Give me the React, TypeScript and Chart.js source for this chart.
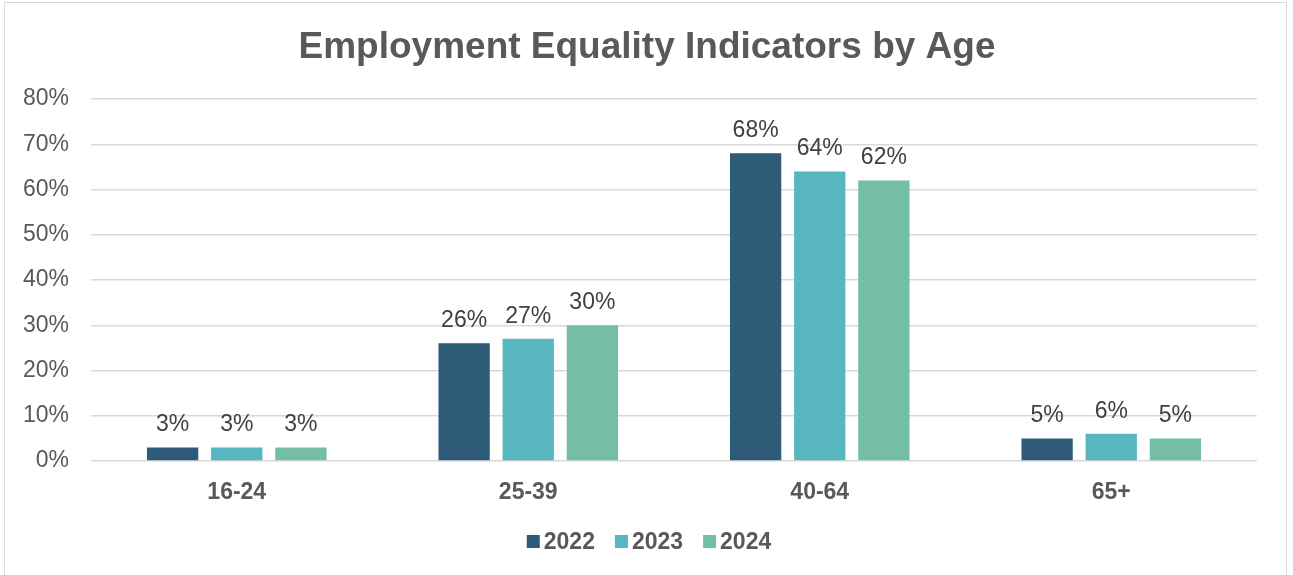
import React, { useEffect, useRef } from "react";
import { Chart, registerables } from "chart.js";

Chart.register(...registerables);

const chartTitle = "Employment Equality Indicators by Age";
const categories = ["16-24", "25-39", "40-64", "65+"];
const seriesLabels = ["2022", "2023", "2024"];
const values2022 = [3, 26, 68, 5];
const values2023 = [3, 27, 64, 6];
const values2024 = [3, 30, 62, 5];
const seriesColors = ["#2E5B78", "#58B6C0", "#75BEA6"];
const yMin = 0;
const yMax = 80;
const yStep = 10;

const FONT = "'Liberation Sans', Arial, sans-serif";

const titlePlugin = {
  id: "customTitle",
  afterDraw(chart: any) {
    const ctx = chart.ctx;
    ctx.save();
    ctx.font = `bold 37px ${FONT}`;
    ctx.fillStyle = "#595959";
    ctx.textAlign = "center";
    ctx.textBaseline = "alphabetic";
    ctx.fillText(chartTitle, 647, 58);
    ctx.restore();
  },
};

const dataLabelPlugin = {
  id: "dataLabels",
  afterDatasetsDraw(chart: any) {
    const ctx = chart.ctx;
    ctx.save();
    ctx.font = `23px ${FONT}`;
    ctx.fillStyle = "#404040";
    ctx.textAlign = "center";
    ctx.textBaseline = "alphabetic";
    chart.data.datasets.forEach((ds: any, i: number) => {
      const meta = chart.getDatasetMeta(i);
      meta.data.forEach((bar: any, j: number) => {
        ctx.fillText(ds.data[j] + "%", bar.x, bar.y - 16);
      });
    });
    ctx.restore();
  },
};

const legendPlugin = {
  id: "customLegend",
  afterDraw(chart: any) {
    const ctx = chart.ctx;
    ctx.save();
    ctx.font = `bold 23px ${FONT}`;
    const box = 13;
    const gapBoxText = 4;
    const gapItems = 20;
    const widths = chart.data.datasets.map(
      (ds: any) => box + gapBoxText + ctx.measureText(ds.label).width
    );
    const total = widths.reduce((a: number, b: number) => a + b, 0) + gapItems * (widths.length - 1);
    let x = 649 - total / 2;
    const yMid = 541.5;
    chart.data.datasets.forEach((ds: any, i: number) => {
      ctx.fillStyle = ds.backgroundColor;
      ctx.fillRect(x, yMid - box / 2, box, box);
      ctx.fillStyle = "#595959";
      ctx.textAlign = "left";
      ctx.textBaseline = "middle";
      ctx.fillText(ds.label, x + box + gapBoxText, yMid + 1);
      x += widths[i] + gapItems;
    });
    ctx.restore();
  },
};

export default function App() {
  const canvasRef = useRef<HTMLCanvasElement | null>(null);

  useEffect(() => {
    if (!canvasRef.current) return;
    const seriesValues = [values2022, values2023, values2024];
    const chart = new Chart(canvasRef.current, {
      type: "bar",
      data: {
        labels: categories,
        datasets: seriesLabels.map((label, i) => ({
          label,
          data: seriesValues[i],
          backgroundColor: seriesColors[i],
          borderWidth: 0,
          barPercentage: 0.8,
          categoryPercentage: 0.66,
        })),
      },
      options: {
        responsive: false,
        maintainAspectRatio: false,
        animation: false,
        layout: {
          padding: { left: 11, right: 36, top: 99, bottom: 44 },
        },
        plugins: {
          legend: { display: false },
          title: { display: false },
          tooltip: { enabled: false },
        },
        scales: {
          x: {
            grid: { display: false },
            border: { display: false },
            ticks: {
              color: "#595959",
              font: { family: FONT, size: 23, weight: "bold" },
              padding: 10,
              maxRotation: 0,
            },
            afterFit(scale: any) {
              scale.height = 70;
            },
          },
          y: {
            min: yMin,
            max: yMax,
            border: { display: false },
            grid: { color: "#d9d9d9", lineWidth: 1.5, drawTicks: false },
            ticks: {
              stepSize: yStep,
              color: "#595959",
              font: { family: FONT, size: 23 },
              padding: 22,
              callback: (v: any) => v + "%",
            },
            afterFit(scale: any) {
              scale.width = 80;
            },
          },
        },
      },
      plugins: [titlePlugin, dataLabelPlugin, legendPlugin],
    });
    return () => chart.destroy();
  }, []);

  return (
    <div
      style={{
        position: "absolute",
        left: 0,
        top: 0,
        width: 1293,
        height: 575,
        overflow: "hidden",
        background: "#ffffff",
      }}
    >
      <div
        style={{
          position: "absolute",
          left: 4,
          top: 2,
          width: 1281,
          height: 620,
          border: "1.5px solid #d9d9d9",
        }}
      />
      <canvas
        ref={canvasRef}
        width={1293}
        height={575}
        style={{ position: "absolute", left: 0, top: 0, width: 1293, height: 575 }}
      />
    </div>
  );
}
